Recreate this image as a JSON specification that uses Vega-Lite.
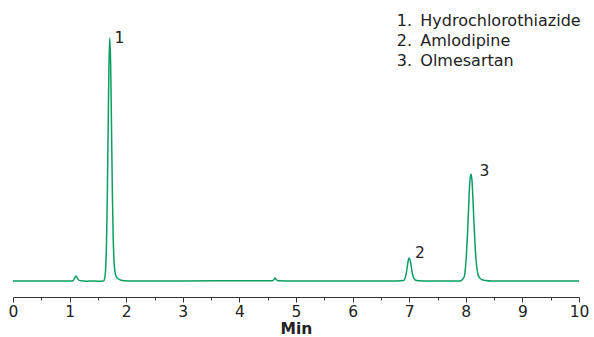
{
  "$schema": "https://vega.github.io/schema/vega-lite/v6.json",
  "width": 566,
  "height": 287,
  "autosize": {"type": "none"},
  "padding": {"left": 13, "top": 10, "right": 15, "bottom": 40},
  "background": "white",
  "config": {"view": {"stroke": null}, "font": "DejaVu Sans"},
  "datasets": {
    "trace": [
      {"t": 0, "v": 16}, {"t": 0.5, "v": 16}, {"t": 1.0, "v": 16}, {"t": 1.06, "v": 16.3},
      {"t": 1.09, "v": 19}, {"t": 1.11, "v": 21}, {"t": 1.13, "v": 19.5}, {"t": 1.16, "v": 17},
      {"t": 1.2, "v": 16.2}, {"t": 1.3, "v": 15.8}, {"t": 1.4, "v": 16}, {"t": 1.5, "v": 15.8},
      {"t": 1.6, "v": 16}, {"t": 1.62, "v": 18.7}, {"t": 1.635, "v": 26.7}, {"t": 1.65, "v": 49},
      {"t": 1.665, "v": 95}, {"t": 1.68, "v": 163}, {"t": 1.695, "v": 230}, {"t": 1.71, "v": 259},
      {"t": 1.725, "v": 234}, {"t": 1.74, "v": 172}, {"t": 1.755, "v": 106}, {"t": 1.77, "v": 60},
      {"t": 1.785, "v": 36}, {"t": 1.8, "v": 26}, {"t": 1.82, "v": 21}, {"t": 1.85, "v": 18.5},
      {"t": 1.9, "v": 17}, {"t": 1.97, "v": 16.3}, {"t": 2.1, "v": 16}, {"t": 3.0, "v": 16},
      {"t": 4.0, "v": 16.2}, {"t": 4.58, "v": 16.2}, {"t": 4.61, "v": 17.5}, {"t": 4.63, "v": 19},
      {"t": 4.65, "v": 17.5}, {"t": 4.68, "v": 16.3}, {"t": 5.0, "v": 16}, {"t": 6.0, "v": 16},
      {"t": 6.8, "v": 16}, {"t": 6.9, "v": 16.4}, {"t": 6.92, "v": 17.7}, {"t": 6.94, "v": 21.3},
      {"t": 6.96, "v": 28}, {"t": 6.98, "v": 35.5}, {"t": 7.0, "v": 39}, {"t": 7.02, "v": 36},
      {"t": 7.04, "v": 29}, {"t": 7.06, "v": 22.5}, {"t": 7.08, "v": 19}, {"t": 7.11, "v": 17},
      {"t": 7.16, "v": 16.3}, {"t": 7.4, "v": 16}, {"t": 7.9, "v": 16}, {"t": 7.97, "v": 20},
      {"t": 7.99, "v": 27}, {"t": 8.01, "v": 41}, {"t": 8.03, "v": 63}, {"t": 8.05, "v": 90},
      {"t": 8.07, "v": 114}, {"t": 8.09, "v": 123}, {"t": 8.11, "v": 116}, {"t": 8.13, "v": 93},
      {"t": 8.15, "v": 68}, {"t": 8.17, "v": 46}, {"t": 8.19, "v": 32}, {"t": 8.21, "v": 24},
      {"t": 8.24, "v": 19.5}, {"t": 8.28, "v": 17.5}, {"t": 8.35, "v": 16.5}, {"t": 8.45, "v": 16},
      {"t": 9.0, "v": 16}, {"t": 10.0, "v": 16}
    ],
    "peaks": [
      {"t": 1.88, "v": 259, "label": "1"},
      {"t": 7.19, "v": 44, "label": "2"},
      {"t": 8.33, "v": 126, "label": "3"}
    ],
    "legend": [
      {"t": 6.78, "v": 276, "label": "1.\u2009 Hydrochlorothiazide"},
      {"t": 6.78, "v": 256, "label": "2.\u2009 Amlodipine"},
      {"t": 6.78, "v": 236, "label": "3.\u2009 Olmesartan"}
    ]
  },
  "resolve": {"axis": {"x": "independent"}},
  "layer": [
    {
      "data": {"name": "trace"},
      "mark": {"type": "line", "color": "#0a9e63", "strokeWidth": 1.5, "interpolate": "monotone"},
      "encoding": {
        "x": {"field": "t", "type": "quantitative", "scale": {"domain": [0, 10], "nice": false},
          "axis": {"orient": "bottom", "values": [0,1,2,3,4,5,6,7,8,9,10], "tickSize": 5, "grid": false,
            "domainColor": "#333333", "tickColor": "#333333", "labelColor": "#222222",
            "labelFontSize": 15.5, "labelPadding": 2, "labelFlush": false, "labelOverlap": false,
            "title": "Min", "titleFontSize": 15.5, "titleFontWeight": "bold", "titleColor": "#222222", "titlePadding": 2}},
        "y": {"field": "v", "type": "quantitative", "scale": {"domain": [0, 287], "nice": false, "zero": false}, "axis": null}
      }
    },
    {
      "data": {"name": "peaks"},
      "mark": {"type": "text", "fontSize": 15.5, "color": "#222222", "align": "center", "baseline": "middle"},
      "encoding": {
        "x": {"field": "t", "type": "quantitative",
          "axis": {"orient": "bottom", "values": [0.5,1.5,2.5,3.5,4.5,5.5,6.5,7.5,8.5,9.5], "tickSize": 3,
            "tickColor": "#333333", "labels": false, "domain": false, "grid": false, "title": null}},
        "y": {"field": "v", "type": "quantitative"},
        "text": {"field": "label"}
      }
    },
    {
      "data": {"name": "legend"},
      "mark": {"type": "text", "fontSize": 16, "color": "#222222", "align": "left", "baseline": "middle"},
      "encoding": {
        "x": {"field": "t", "type": "quantitative", "axis": null},
        "y": {"field": "v", "type": "quantitative"},
        "text": {"field": "label"}
      }
    }
  ]
}
